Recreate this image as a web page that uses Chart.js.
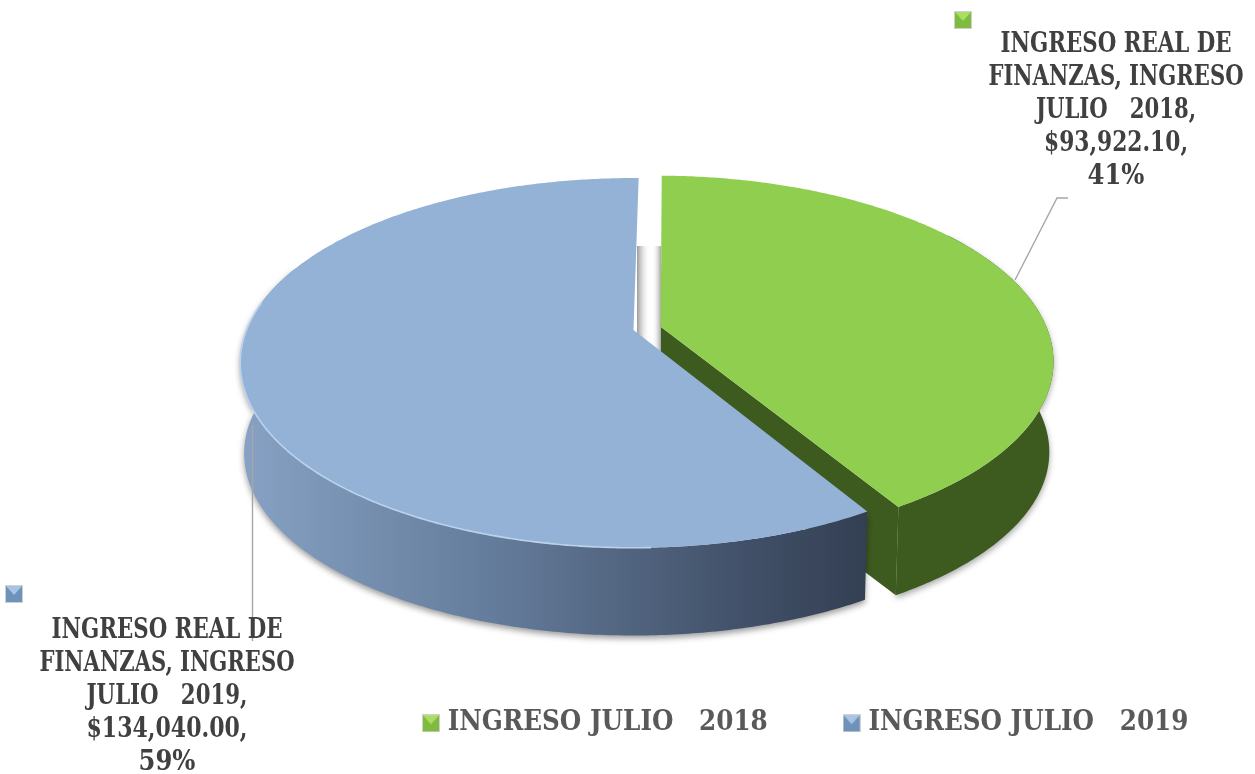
<!DOCTYPE html>
<html><head><meta charset="utf-8">
<style>html,body{margin:0;padding:0;background:#fff}canvas{display:block;filter:blur(.35px)}</style>
<script src="https://cdn.jsdelivr.net/npm/chart.js@4/dist/chart.umd.min.js"></script>
</head><body>
<canvas id="c" width="1255" height="774"></canvas>
<script>
const categories = ['INGRESO JULIO   2018', 'INGRESO JULIO   2019'];
const values = [93922.10, 134040.00];
const valueLabels = ['$93,922.10,', '$134,040.00,'];
const percentLabels = ['41%', '59%'];
const labelHeads = ['INGRESO REAL DE', 'FINANZAS, INGRESO'];
const labelSeries = ['JULIO   2018,', 'JULIO   2019,'];
const topColors = ['#90ce50', '#94b2d6'];
const markerColors = [['#a9de62', '#7fbb3e'], ['#a9c3e2', '#6f92bb']];
const FONT = '"DejaVu Serif Condensed"';
const lineFit = [[231, 255, 160, 144, 57], [231, 255, 161, 161, 57]];

const view = {xc: 633.5, yc: 330, b: 387, a: 179, k: 0.178, sx: 0.99, sy: 0.985, dy: 91};
function project(u, v, bottom) {
  const w = 1 - view.k * v, X = view.b * u / w, Y = view.a * v / w;
  return bottom ? [view.xc + view.sx * X, view.yc + view.sy * Y + view.dy] : [view.xc + X, view.yc + Y];
}
function discOf(arc) {
  const o = (arc.options.offset || 0) / 4 / arc.outerRadius;
  const mid = (arc.startAngle + arc.endAngle) / 2;
  return {du: Math.cos(mid) * o, dv: Math.sin(mid) * o};
}
function rim(d, a0, a1, bottom) {
  const n = Math.max(2, Math.ceil(Math.abs(a1 - a0) / 0.01)), pts = [];
  for (let i = 0; i <= n; i++) {
    const a = a0 + (a1 - a0) * i / n;
    pts.push(project(d.du + Math.cos(a), d.dv + Math.sin(a), bottom));
  }
  return pts;
}
function poly(ctx, pts) {
  ctx.beginPath();
  pts.forEach((p, i) => i ? ctx.lineTo(p[0], p[1]) : ctx.moveTo(p[0], p[1]));
  ctx.closePath();
}
function makeMarker(c) {
  const s = 18, m = document.createElement('canvas');
  m.width = m.height = s;
  const g = m.getContext('2d');
  g.fillStyle = c[1]; g.fillRect(1, 1, s - 2, s - 2);
  g.fillStyle = c[0];
  g.beginPath(); g.moveTo(1, 1); g.lineTo(s - 1, 1); g.lineTo(s / 2, s / 2 + 1); g.closePath(); g.fill();
  g.strokeStyle = 'rgba(120,120,120,.35)'; g.strokeRect(.5, .5, s - 1, s - 1);
  return m;
}
const markers = markerColors.map(makeMarker);

const pie3d = {
  id: 'pie3d',
  beforeDatasetsDraw(chart) {
    const ctx = chart.ctx, arcs = chart.getDatasetMeta(0).data;
    const green = arcs[0], blue = arcs[1];
    const dg = discOf(green), db = discOf(blue);
    ctx.save();
    const gApexT = project(dg.du, dg.dv, false), gApexB = project(dg.du, dg.dv, true);
    const gTop = rim(dg, green.startAngle, green.endAngle, false);
    const gBot = rim(dg, green.startAngle, green.endAngle, true);
    ctx.shadowColor = 'rgba(0,0,0,.35)'; ctx.shadowBlur = 6; ctx.shadowOffsetY = 3;
    ctx.fillStyle = '#3d5a1f';
    const gFrom = Math.max(green.startAngle, -0.6);
    poly(ctx, rim(dg, gFrom, green.endAngle, false).concat(rim(dg, gFrom, green.endAngle, true).reverse()));
    ctx.fill();
    ctx.shadowColor = 'transparent';
    poly(ctx, [gApexT, gTop[gTop.length - 1], gBot[gBot.length - 1], gApexB]);
    ctx.fill();
    let sh = ctx.createLinearGradient(637, 0, 650, 0);
    sh.addColorStop(0, '#9a9a9a'); sh.addColorStop(1, 'rgba(255,255,255,0)');
    ctx.fillStyle = sh; ctx.fillRect(637, 246, 13, 106);
    sh = ctx.createLinearGradient(652, 0, 661, 0);
    sh.addColorStop(0, 'rgba(255,255,255,0)'); sh.addColorStop(1, '#a8a8a8');
    ctx.fillStyle = sh; ctx.fillRect(652, 246, 9, 106);
    ctx.fillStyle = green.options.backgroundColor;
    poly(ctx, [gApexT].concat(gTop)); ctx.fill();
    const bTo = Math.min(blue.endAngle, Math.PI * 1.12);
    const wall = ctx.createLinearGradient(245, 0, 865, 0);
    wall.addColorStop(0, '#86a1c3'); wall.addColorStop(0.4, '#647c9b');
    wall.addColorStop(0.75, '#46566f'); wall.addColorStop(1, '#333f53');
    ctx.shadowColor = 'rgba(0,0,0,.4)'; ctx.shadowBlur = 6; ctx.shadowOffsetY = 3;
    ctx.fillStyle = wall;
    poly(ctx, rim(db, blue.startAngle, bTo, false).concat(rim(db, blue.startAngle, bTo, true).reverse()));
    ctx.fill();
    ctx.shadowColor = 'transparent';
    ctx.fillStyle = blue.options.backgroundColor;
    poly(ctx, [project(db.du, db.dv, false)].concat(rim(db, blue.startAngle, blue.endAngle, false)));
    ctx.fill();
    ctx.strokeStyle = '#bcd2ec'; ctx.lineWidth = 1.6;
    const hl = rim(db, blue.startAngle + 0.5, Math.PI * 1.05, false);
    ctx.beginPath(); hl.forEach((p, i) => i ? ctx.lineTo(p[0], p[1]) : ctx.moveTo(p[0], p[1])); ctx.stroke();
    ctx.restore();
    return false;
  },
  afterDraw(chart) {
    const ctx = chart.ctx;
    ctx.save();
    ctx.strokeStyle = '#a6a6a6'; ctx.lineWidth = 1.4;
    ctx.beginPath(); ctx.moveTo(1068, 198); ctx.lineTo(1057, 198); ctx.lineTo(1015, 280); ctx.stroke();
    ctx.beginPath(); ctx.moveTo(252.5, 425); ctx.lineTo(252.5, 641); ctx.stroke();
    ctx.drawImage(markers[0], 954, 11);
    ctx.drawImage(markers[1], 5, 585);
    ctx.fillStyle = '#404040';
    ctx.font = 'bold 27px ' + FONT;
    ctx.textAlign = 'center'; ctx.textBaseline = 'alphabetic';
    const spots = [[1116, 52], [167, 638]];
    categories.forEach((c, i) => {
      const lines = labelHeads.concat([labelSeries[i], valueLabels[i], percentLabels[i]]);
      lines.forEach((t, j) => ctx.fillText(t, spots[i][0], spots[i][1] + j * 33, lineFit[i][j]));
    });
    ctx.restore();
  }
};

new Chart(document.getElementById('c'), {
  type: 'pie',
  data: {labels: categories, datasets: [{
    data: values, backgroundColor: topColors, borderWidth: 0, offset: [80, 0]
  }]},
  options: {
    responsive: false, animation: false, rotation: 0.9,
    layout: {padding: {left: 347, right: -20, bottom: 27}},
    plugins: {
      tooltip: {enabled: false},
      legend: {
        position: 'bottom', align: 'start',
        labels: {
          color: '#595959', padding: 81, usePointStyle: true, pointStyleWidth: 6,
          font: {family: FONT, weight: 'bold', size: 27.4},
          generateLabels(chart) {
            return categories.map((c, i) => ({text: c, pointStyle: markers[i], fillStyle: topColors[i], strokeStyle: topColors[i], lineWidth: 0, index: i, hidden: false, fontColor: '#595959'}));
          }
        }
      }
    }
  },
  plugins: [pie3d]
});
</script>
</body></html>
